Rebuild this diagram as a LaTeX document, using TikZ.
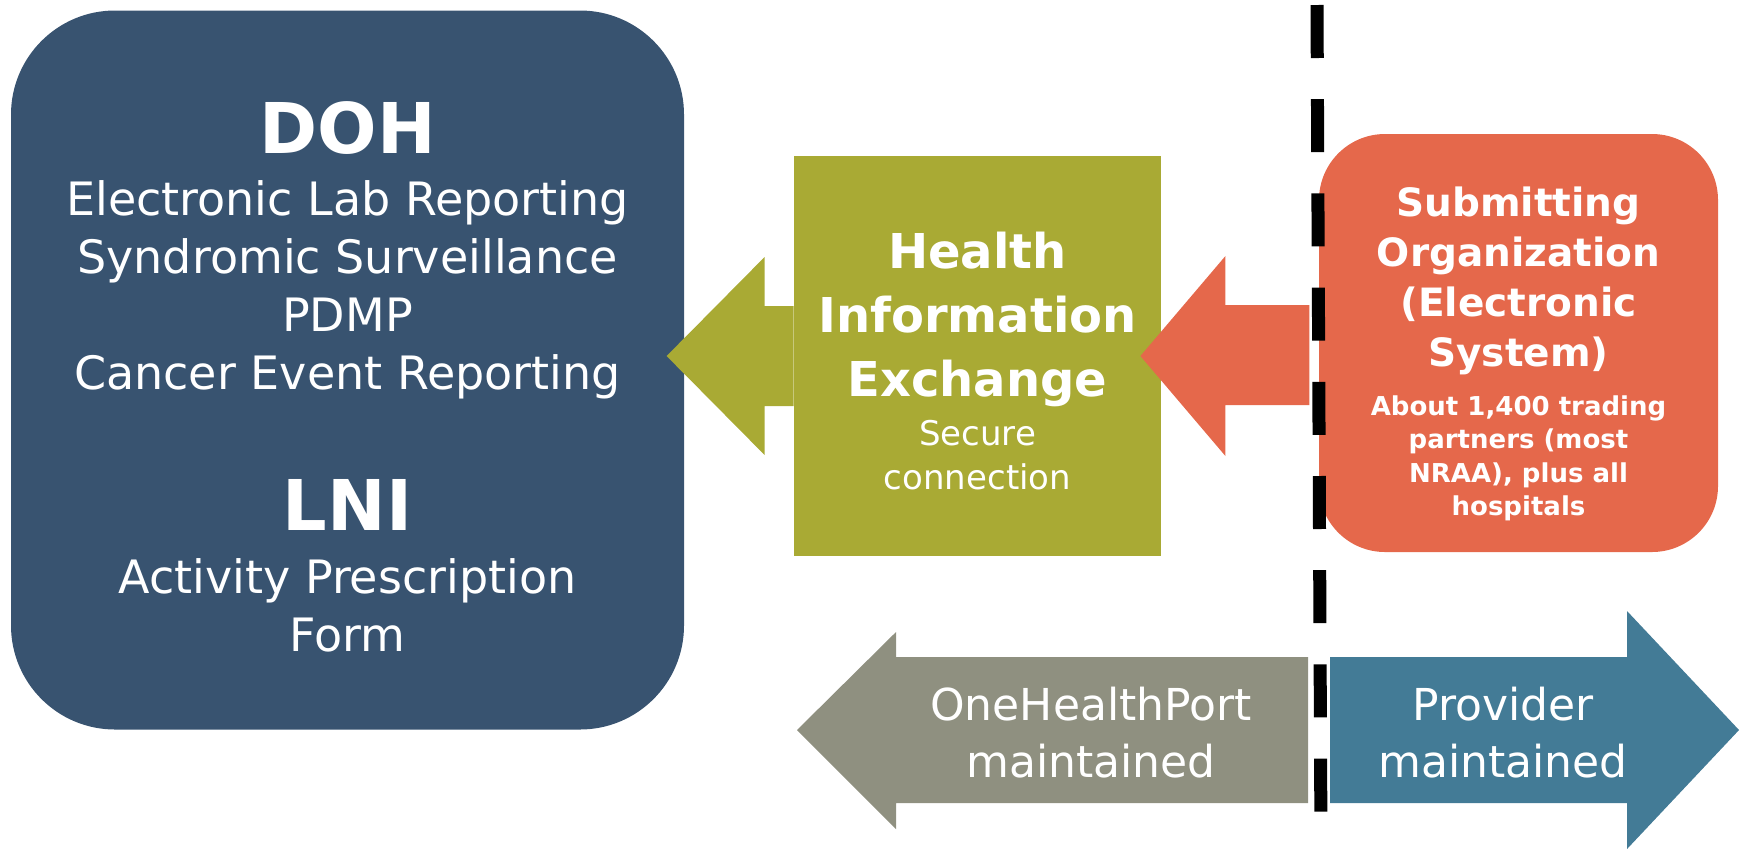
\documentclass[tikz,border=0pt]{standalone}
\usepackage{fontspec}
\setmainfont{DejaVu Sans}
\usepackage{tikz}
\usetikzlibrary{positioning,calc}
\definecolor{dohblue}{RGB}{56,83,112}
\definecolor{hiegreen}{RGB}{169,170,52}
\definecolor{orgred}{RGB}{229,104,75}
\definecolor{ohpgray}{RGB}{143,144,128}
\definecolor{provblue}{RGB}{67,123,150}

\begin{document}
\begin{tikzpicture}
[x=0.5pt,y=-0.5pt,
   panel/.style={rectangle,inner sep=0pt},
   bigname/.style={text=white,inner sep=0pt,font=\bfseries\fontsize{35}{42}\selectfont},
   listtext/.style={text=white,inner sep=0pt,align=center,font=\fontsize{23}{29}\selectfont},
   hietext/.style={text=white,inner sep=0pt,align=center,font=\bfseries\fontsize{24}{32}\selectfont},
   hienote/.style={text=white,inner sep=0pt,align=center,font=\fontsize{17}{22}\selectfont},
   sotext/.style={text=white,inner sep=0pt,align=center,font=\bfseries\fontsize{19.5}{25}\selectfont},
   sonote/.style={text=white,inner sep=0pt,align=center,font=\bfseries\fontsize{13}{16.75}\selectfont},
   arrowtext/.style={text=white,inner sep=0pt,align=center,font=\fontsize{22}{28.5}\selectfont},
   divider/.style={line width=6.5pt,dash pattern=on 26.5pt off 20.6pt}]
\useasboundingbox (0,0) rectangle (1744,848);

% the three boxes
\node[panel,fill=dohblue,minimum width=336.5pt,minimum height=359.5pt,rounded corners=52pt] (doh) at (347.5,370) {};
\node[panel,fill=hiegreen,minimum width=183.5pt,minimum height=200pt] (hie) at (977.5,356) {};
\node[panel,fill=orgred,minimum width=199.5pt,minimum height=209pt,rounded corners=33pt] (so) at (1518.5,343) {};

% block arrows between the boxes
\fill[hiegreen] (hie.west) ++(0,-50) -- ++(-29,0) -- ++(0,-49) -- ++(-98,99) -- ++(98,99) -- ++(0,-49) -- ++(29,0) -- cycle;
\fill[orgred] (hie.east) ++(-21,0) -- ++(85,-100) -- ++(0,49) -- ++(84,0) -- ++(0,100) -- ++(-84,0) -- ++(0,51) -- cycle;

% who maintains what
\fill[ohpgray] (797,730) -- ++(99,-98) -- ++(0,25) -- ++(412,0) -- ++(0,146) -- ++(-412,0) -- ++(0,26) -- cycle;
\fill[provblue] (1739,730) -- ++(-112,-119) -- ++(0,46) -- ++(-297,0) -- ++(0,146) -- ++(297,0) -- ++(0,46) -- cycle;

\coordinate (divtop) at (1317,5);
\coordinate (divbot) at (1321,848);
\draw[divider] (divtop) -- (divbot);

% texts
\node[bigname,anchor=base] (dohname) at (347.5,153) {DOH};
\node[listtext,anchor=north] (dohlist) at (347.5,180) {Electronic Lab Reporting\\Syndromic Surveillance\\PDMP\\Cancer Event Reporting};
\node[bigname,anchor=base] (lniname) at (347.5,530) {LNI};
\node[listtext,anchor=north] (lnilist) at (347.5,558) {Activity Prescription\\Form};

\node[hietext,anchor=north] (hiename) at (977.5,231.5) {Health\\Information\\Exchange};
\node[hienote,anchor=north] (hieconn) at (977.5,420) {Secure\\connection};

\node[sotext,anchor=north] (soname) at (1518.5,186) {Submitting\\Organization\\(Electronic\\System)};
\node[sonote,anchor=north] (sopartners) at (1518.5,395) {About 1,400 trading\\partners (most\\NRAA), plus all\\hospitals};

\node[arrowtext,anchor=north] (ohp) at (1091,687) {OneHealthPort\\maintained};
\node[arrowtext,anchor=north] (prov) at (1503,687) {Provider\\maintained};
\end{tikzpicture}
\end{document}
